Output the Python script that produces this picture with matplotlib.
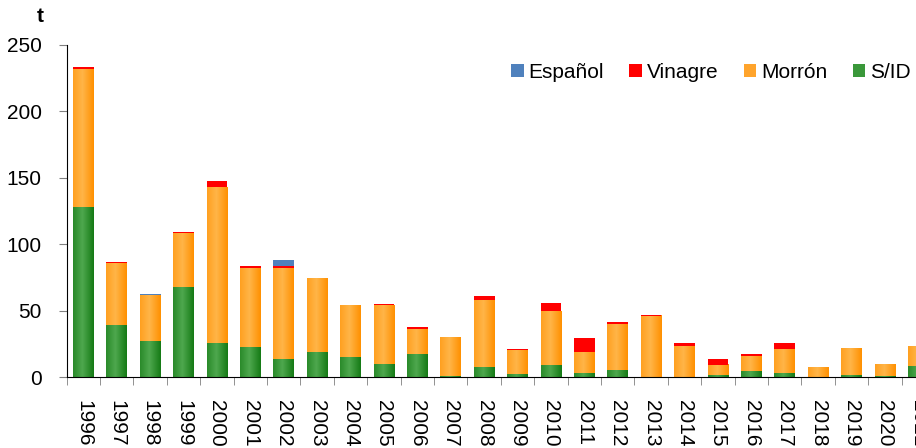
import matplotlib
matplotlib.use("Agg")
import matplotlib.pyplot as plt
from matplotlib.patches import Patch
from matplotlib.colors import to_rgb
import numpy as np

plt.rcParams['font.family'] = ['Liberation Sans', 'DejaVu Sans']

years = [str(y) for y in range(1996, 2022)]
sid = [128, 39, 27, 68, 26, 23, 14, 19, 15, 10, 17.5, 1, 7.7, 2.5, 9.3, 3.3, 5.5, 0, 0, 1.7, 4.8, 3.3, 0, 1.7, 1, 8.5]
morron = [104, 47, 34.5, 40.5, 117, 59.5, 68, 55, 39, 44.3, 19, 29.3, 50.6, 18, 40.5, 15.7, 34.6, 46, 23.5, 7.6, 11.2, 18, 7.5, 19.6, 9, 15]
vinagre = [1, 0.7, 0.5, 0.8, 4.5, 1.3, 1.3, 0, 0, 0.8, 1.3, 0, 2.8, 0.8, 6, 10.5, 1.5, 0.7, 2.3, 4.5, 1.5, 4.5, 0, 0, 0, 0]
espanol = [0.5, 0, 0.6, 0, 0, 0, 5.2, 0, 0, 0, 0, 0, 0, 0, 0, 0, 0, 0, 0, 0, 0, 0, 0, 0, 0, 0]

# name, values, legend colour, gradient (left edge, centre, right edge) or None
series = [("S/ID", sid, "#3a983a", ("#2a8a2a", "#4ea84e", "#157a15")),
          ("Morrón", morron, "#ffa42c", ("#ffa020", "#ffb548", "#ff9000")),
          ("Vinagre", vinagre, "#ff0000", None),
          ("Español", espanol, "#4f81bd", None)]

W, H = 916, 448
fig = plt.figure(figsize=(W / 100, H / 100), dpi=100)
ax = fig.add_axes([66.7 / W, (H - 377.3) / H, (935 - 66.7) / W, (377.3 - 44.7) / H])

x = np.arange(len(years))
bottom = np.zeros(len(years))
handles = []
t = np.linspace(0, 1, 64)
for name, vals, col, grad in series:
    v = np.array(vals, dtype=float)
    z = 1 if grad is not None else 2
    bars = ax.bar(x, v, 0.62, bottom=bottom, color=col, linewidth=0, zorder=z)
    bottom += v
    handles.append(Patch(facecolor=col, edgecolor='none', label=name))
    if grad is not None:
        cl, cc, cr = (np.array(to_rgb(c)) for c in grad)
        img = np.empty((1, len(t), 3))
        for i, tt in enumerate(t):
            if tt < 0.45:
                f = tt / 0.45
                img[0, i] = cl * (1 - f) + cc * f
            else:
                f = (tt - 0.45) / 0.55
                img[0, i] = cc * (1 - f) + cr * f
        for p in bars.patches:
            if p.get_height() > 0:
                ax.imshow(img, extent=[p.get_x(), p.get_x() + p.get_width(),
                                       p.get_y(), p.get_y() + p.get_height()],
                          aspect='auto', interpolation='bilinear', zorder=1.5)

ax.set_xlim(-0.5, len(years) - 0.5)
ax.set_ylim(0, 250)
ax.set_aspect('auto')
ax.set_yticks([0, 50, 100, 150, 200, 250])
ax.tick_params(axis='y', labelsize=15, length=6, color='#808080', pad=12)
ax.set_xticks(x)
ax.set_xticklabels(years, rotation=270, fontsize=15)
ax.tick_params(axis='x', which='major', length=0, pad=16)
ax.set_xticks(np.arange(-0.5, len(years)), minor=True)
ax.tick_params(axis='x', which='minor', length=6, color='#808080')
for s in ['top', 'right']:
    ax.spines[s].set_visible(False)
ax.spines['left'].set_color('black')
ax.spines['bottom'].set_color('black')
ax.spines['left'].set_zorder(3)
ax.spines['bottom'].set_zorder(3)

fig.text(40 / W, 1 - 17 / H, 't', fontsize=15, fontweight='bold', ha='center', va='center')

fig.legend(handles=handles[::-1], loc='center left', bbox_to_anchor=(511 / W, 1 - 72 / H),
           ncol=4, frameon=False, fontsize=15, handlelength=0.6, handleheight=0.6,
           handletextpad=0.25, columnspacing=1.2, borderaxespad=0, borderpad=0)

fig.savefig('out.png', dpi=100)
